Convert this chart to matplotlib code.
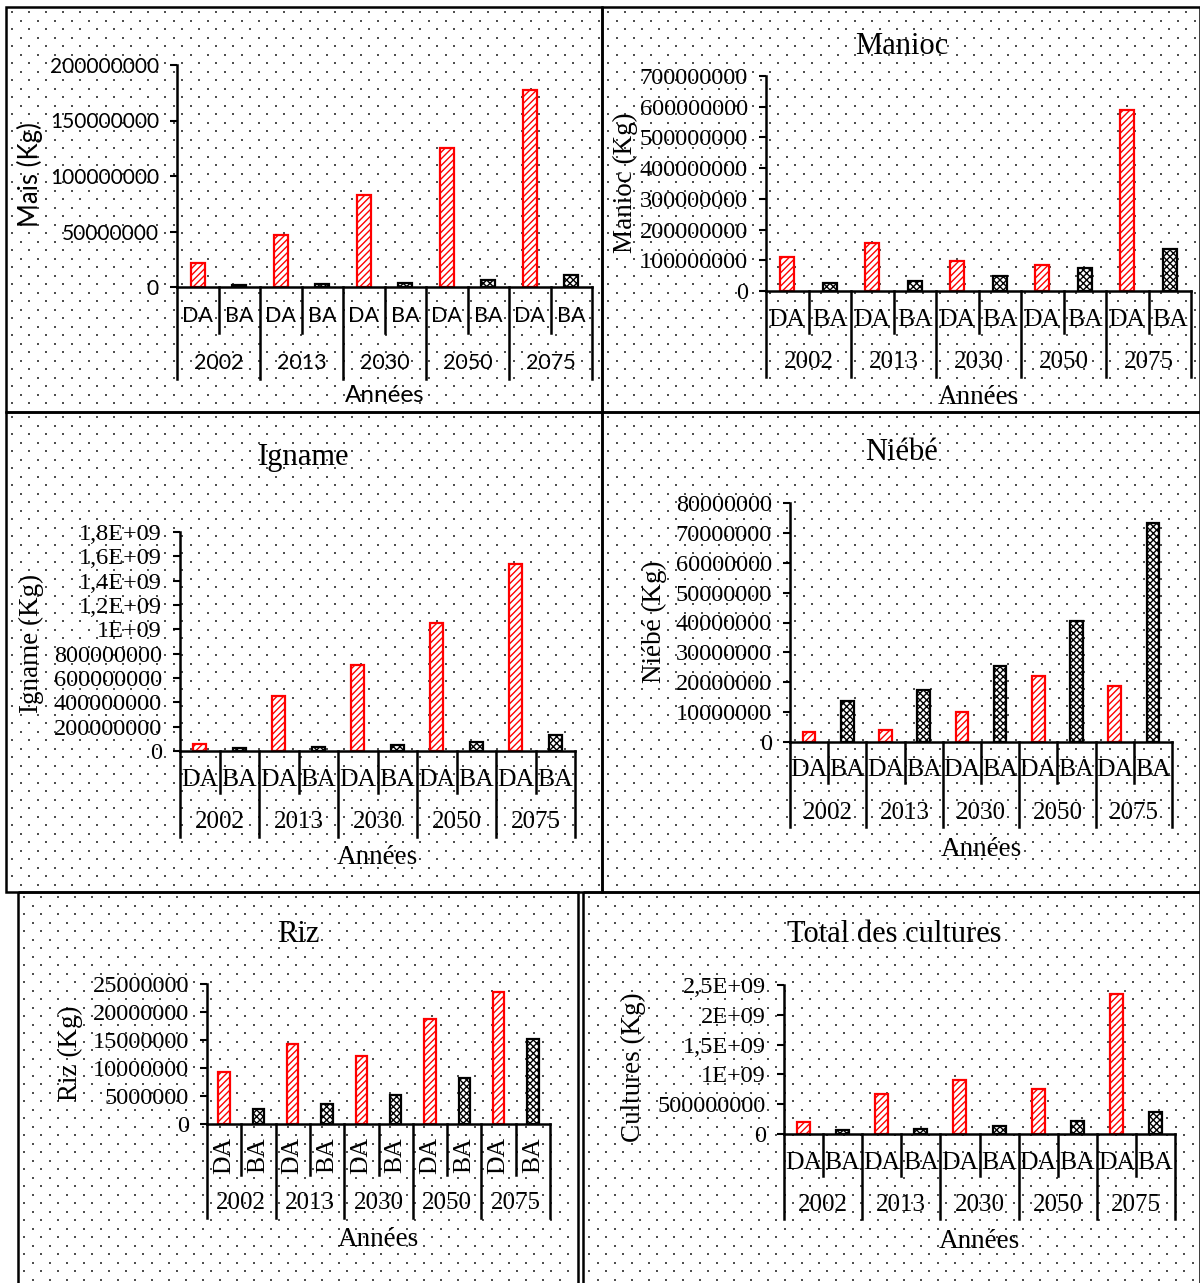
import numpy as np
import matplotlib
matplotlib.use('Agg')
import matplotlib.pyplot as plt
from matplotlib.patches import Rectangle
from matplotlib.transforms import blended_transform_factory

W, H = 1200, 1283

years = ['2002', '2013', '2030', '2050', '2075']
groups = ['DA', 'BA']

mais_da = [21.6e6, 47e6, 83e6, 125e6, 177.5e6]
mais_ba = [1.5e6, 2.4e6, 3.6e6, 6e6, 10.5e6]
manioc_da = [110e6, 155e6, 98e6, 84e6, 590e6]
manioc_ba = [26e6, 33e6, 48e6, 75e6, 136e6]
igname_da = [60e6, 452e6, 704e6, 1055e6, 1537e6]
igname_ba = [25e6, 30e6, 49e6, 74e6, 134e6]
niebe_da = [3.5e6, 4.1e6, 10e6, 22.2e6, 18.7e6]
niebe_ba = [13.7e6, 17.5e6, 25.6e6, 40.4e6, 73.2e6]
riz_da = [9.2e6, 14.3e6, 12.2e6, 18.7e6, 23.6e6]
riz_ba = [2.7e6, 3.6e6, 5.2e6, 8.3e6, 15.1e6]
total_da = [206e6, 679e6, 913e6, 752e6, 2355e6]
total_ba = [72e6, 89e6, 128e6, 212e6, 367e6]

mais_ticks = [0, 50e6, 100e6, 150e6, 200e6]
mais_labels = ['0', '50000000', '100000000', '150000000', '200000000']
manioc_ticks = [i * 100e6 for i in range(8)]
manioc_labels = ['0'] + [f'{i}00000000' for i in range(1, 8)]
igname_ticks = [i * 200e6 for i in range(10)]
igname_labels = ['0', '200000000', '400000000', '600000000', '800000000',
                 '1E+09', '1,2E+09', '1,4E+09', '1,6E+09', '1,8E+09']
niebe_ticks = [i * 10e6 for i in range(9)]
niebe_labels = ['0'] + [f'{i}0000000' for i in range(1, 9)]
riz_ticks = [i * 5e6 for i in range(6)]
riz_labels = ['0', '5000000', '10000000', '15000000', '20000000', '25000000']
total_ticks = [i * 500e6 for i in range(6)]
total_labels = ['0', '500000000', '1E+09', '1,5E+09', '2E+09', '2,5E+09']


def fx(px):
    return px / W


def fy(py):
    return 1 - py / H


fig = plt.figure(figsize=(12, 12.83), dpi=100)

# fond pointillé + cadres
bg = fig.add_axes([0, 0, 1, 1])
bg.set_xlim(0, W)
bg.set_ylim(H, 0)
bg.axis('off')
frames = [(6, 7, 602, 412), (602, 7, 1200, 412),
          (6, 412, 602, 892), (602, 412, 1200, 892),
          (18, 892, 578, 1290), (583, 892, 1200, 1290)]
for (l, t, r, b) in frames:
    px, py = [], []
    row = 0
    yy = t + 5
    while yy < min(b, H) - 2:
        off = 8.5 if row % 2 else 0
        xx = l + 6 + off
        while xx < r - 2:
            px.append(xx)
            py.append(yy)
            xx += 17
        yy += 8.5
        row += 1
    bg.scatter(px, py, s=4.5, marker='s', color='#505050', linewidths=0)
    bg.add_patch(Rectangle((l, t), r - l, b - t, fill=False, lw=1.8, ec='black'))


def panel(box, da, ba, ticks, labels, ylabel, ylab_xy, title, title_xy, lay,
          fam, fs, rotate=False):
    x0, x1, ytop, y0 = box
    ax = fig.add_axes([fx(x0), fy(y0), fx(x1 - x0), (y0 - ytop) / H])
    ax.patch.set_alpha(0)
    xs = np.arange(5) * 2
    ax.bar(xs + 0.5, da, width=0.33, color='white', edgecolor='red',
           hatch='/////', linewidth=1.6)
    ax.bar(xs + 1.5, ba, width=0.33, color='white', edgecolor='black',
           hatch='xxxxx', linewidth=1.6)
    ax.set_xlim(0, 10)
    ax.set_ylim(0, ticks[-1])
    ax.set_xticks([])
    ax.set_yticks(ticks)
    ax.set_yticklabels(labels, family=fam, fontsize=fs['tick'])
    ax.tick_params(axis='y', direction='out', length=5, width=1.5, pad=8)
    for s in ['top', 'right']:
        ax.spines[s].set_visible(False)
    for s in ['left', 'bottom']:
        ax.spines[s].set_linewidth(1.8)

    tr = blended_transform_factory(ax.transData, fig.transFigure)
    for i in range(11):
        bot = lay['row2'] if i % 2 == 0 else lay['row1']
        ax.plot([i, i], [fy(y0), fy(bot)], transform=tr, clip_on=False,
                color='black', lw=1.8)
    for i in range(10):
        ax.text(i + 0.5, fy(lay['lab1']), groups[i % 2], transform=tr,
                ha='center', va='center', family=fam, fontsize=fs['cat'],
                rotation=90 if rotate else 0)
    for k, yr in enumerate(years):
        ax.text(2 * k + 1, fy(lay['lab2']), yr, transform=tr, ha='center',
                va='center', family=fam, fontsize=fs['year'])
    ax.text(5, fy(lay['xl']), 'Années', transform=tr, ha='center',
            va='center', family=fam, fontsize=fs['axis'])
    fig.text(fx(ylab_xy[0]), fy(ylab_xy[1]), ylabel, rotation=90,
             ha='center', va='center', family=fam, fontsize=fs['yl'])
    if title:
        fig.text(fx(title_xy[0]), fy(title_xy[1]), title, ha='center',
                 va='center', family=fam, fontsize=fs['title'])


sans = ['Lato', 'DejaVu Sans']
serif = ['Liberation Serif', 'DejaVu Serif']
fs_sans = {'tick': 15, 'cat': 15.5, 'year': 15.5, 'axis': 17.5, 'yl': 18.5,
           'title': 20}
fs_serif = {'tick': 17.5, 'cat': 18.5, 'year': 18, 'axis': 19.5, 'yl': 19.5,
            'title': 22}

panel((177, 592, 65, 287), mais_da, mais_ba, mais_ticks, mais_labels,
      'Mais (Kg)', (30, 175), None, None,
      {'row1': 333, 'row2': 379, 'lab1': 316, 'lab2': 363, 'xl': 395},
      sans, fs_sans)
panel((766, 1191, 76, 291), manioc_da, manioc_ba, manioc_ticks, manioc_labels,
      'Manioc (Kg)', (625, 183), 'Manioc', (902, 47),
      {'row1': 333, 'row2': 377, 'lab1': 320, 'lab2': 362, 'xl': 397},
      serif, fs_serif)
panel((180, 575, 532, 751), igname_da, igname_ba, igname_ticks, igname_labels,
      'Igname (Kg)', (31, 643), 'Igname', (304, 457),
      {'row1': 793, 'row2': 837, 'lab1': 780, 'lab2': 822, 'xl': 858},
      serif, fs_serif)
panel((790, 1172, 503, 742), niebe_da, niebe_ba, niebe_ticks, niebe_labels,
      'Niébé (Kg)', (654, 622), 'Niébé', (902, 453),
      {'row1': 783, 'row2': 827, 'lab1': 770, 'lab2': 813, 'xl': 849},
      serif, fs_serif)
panel((207, 550, 984, 1124), riz_da, riz_ba, riz_ticks, riz_labels,
      'Riz (Kg)', (70, 1053), 'Riz', (298, 935),
      {'row1': 1175, 'row2': 1218, 'lab1': 1155, 'lab2': 1203, 'xl': 1240},
      serif, fs_serif, rotate=True)
panel((784, 1175, 985, 1134), total_da, total_ba, total_ticks, total_labels,
      'Cultures (Kg)', (633, 1067), 'Total des cultures', (894, 935),
      {'row1': 1176, 'row2': 1219, 'lab1': 1163, 'lab2': 1205, 'xl': 1242},
      serif, fs_serif)

fig.savefig('out.png', dpi=100)
